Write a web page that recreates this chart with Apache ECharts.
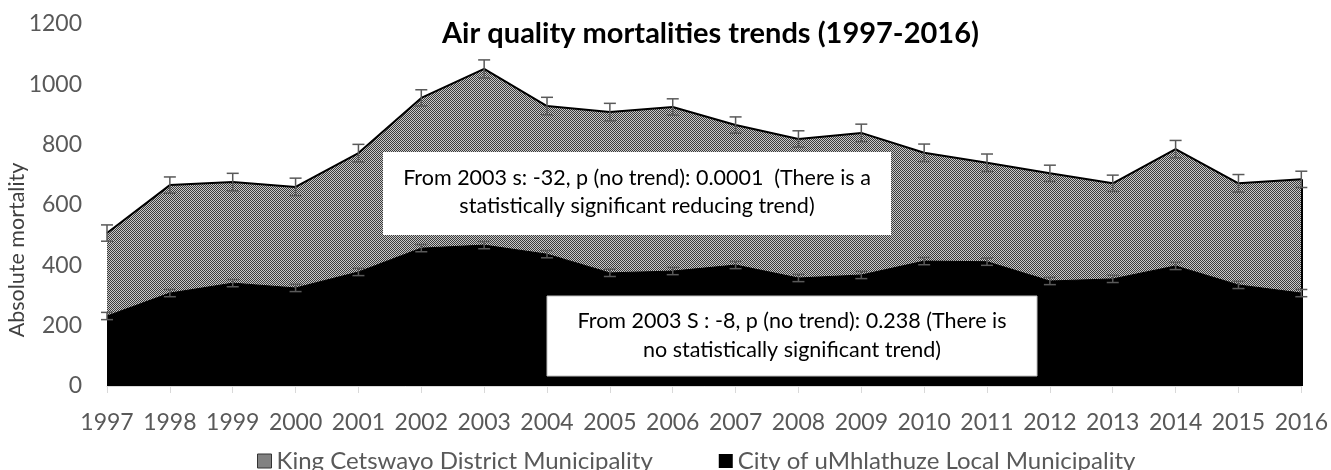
<!DOCTYPE html>
<html>
<head>
<meta charset="utf-8">
<script src="https://cdn.jsdelivr.net/npm/echarts@6/dist/echarts.min.js"></script>
<style>
  html, body { margin: 0; padding: 0; background: #fff; }
  #chart { width: 1331px; height: 470px; }
</style>
</head>
<body>
<div id="chart"></div>
<script>
const years = ['1997','1998','1999','2000','2001','2002','2003','2004','2005','2006',
               '2007','2008','2009','2010','2011','2012','2013','2014','2015','2016'];
// King Cetswayo District Municipality (total)
const districtValues = [507, 666, 676, 660, 772, 955, 1051, 928, 908, 925,
                        865, 819, 839, 773, 740, 705, 672, 785, 672, 685];
const districtErr = [27, 27, 29, 29, 29, 27, 30, 29, 29, 27,
                     27, 27, 29, 29, 29, 27, 27, 29, 29, 27];
// City of uMhlathuze Local Municipality
const cityValues = [232, 308, 341, 325, 378, 457, 467, 437, 375, 381,
                    401, 358, 368, 414, 412, 348, 355, 398, 335, 308];
const cityErr = [12, 12, 12, 12, 12, 12, 12, 12, 12, 12,
                 12, 12, 12, 12, 12, 12, 12, 12, 12, 12];
const yTicks = { min: 0, max: 1200, interval: 200 };

const FONT = 'Lato, "Open Sans", sans-serif';
const GRAY = '#595959';

// dithered grey fill like the Excel pattern
const pc = document.createElement('canvas');
pc.width = 2; pc.height = 2;
const pctx = pc.getContext('2d');
pctx.fillStyle = '#c8c8c8';
pctx.fillRect(0, 0, 2, 2);
pctx.fillStyle = '#3a3a3a';
pctx.fillRect(0, 0, 1, 1);
pctx.fillRect(1, 1, 1, 1);
const pattern = { image: pc, repeat: 'repeat' };

function errData(vals, errs) {
  return vals.map((v, i) => [i, v - errs[i], v + errs[i]]);
}

function renderErr(params, api) {
  const lo = api.coord([api.value(0), api.value(1)]);
  const hi = api.coord([api.value(0), api.value(2)]);
  const w = 6;
  const style = { stroke: GRAY, lineWidth: 1.5 };
  return {
    type: 'group',
    children: [
      { type: 'line', shape: { x1: lo[0], y1: lo[1], x2: hi[0], y2: hi[1] }, style },
      { type: 'line', shape: { x1: hi[0] - w, y1: hi[1], x2: hi[0] + w, y2: hi[1] }, style },
      { type: 'line', shape: { x1: lo[0] - w, y1: lo[1], x2: lo[0] + w, y2: lo[1] }, style }
    ]
  };
}

const last = years.length - 1;
const myChart = echarts.init(document.getElementById('chart'));

const option = {
  animation: false,
  title: {
    text: 'Air quality mortalities trends (1997-2016)',
    left: 437,
    top: 14,
    textStyle: { fontFamily: FONT, fontWeight: 'bold', fontSize: 29, color: '#000' }
  },
  legend: {
    left: 252,
    top: 444,
    itemWidth: 14,
    itemHeight: 14,
    itemGap: 66,
    icon: 'rect',
    textStyle: { fontFamily: FONT, fontSize: 24, color: GRAY },
    data: [
      { name: 'King Cetswayo District Municipality', itemStyle: { color: pattern, borderColor: '#333', borderWidth: 1 } },
      { name: 'City of uMhlathuze Local Municipality', itemStyle: { color: '#000' } }
    ]
  },
  grid: { left: 107, right: 28, top: 24, bottom: 84 },
  xAxis: {
    type: 'category',
    boundaryGap: false,
    data: years,
    axisLine: { lineStyle: { color: '#d9d9d9', width: 1 } },
    axisTick: { show: true, length: 7, interval: 0, lineStyle: { color: '#d9d9d9' } },
    axisLabel: { interval: 0, margin: 25, fontFamily: FONT, fontSize: 23, color: GRAY }
  },
  yAxis: {
    type: 'value',
    min: yTicks.min,
    max: yTicks.max,
    interval: yTicks.interval,
    axisLine: { show: false },
    axisTick: { show: false },
    splitLine: { show: false },
    axisLabel: { margin: 25, fontFamily: FONT, fontSize: 23, color: GRAY, formatter: v => String(v) }
  },
  graphic: [
    {
      type: 'text',
      x: 17, y: 250,
      rotation: Math.PI / 2,
      style: {
        text: 'Absolute mortality',
        fontFamily: FONT, fontSize: 21.5, fill: '#404040',
        align: 'center', verticalAlign: 'middle'
      }
    },
    {
      type: 'rect',
      z: 100,
      shape: { x: 383, y: 152, width: 508, height: 83 },
      style: { fill: '#fff' }
    },
    {
      type: 'text',
      z: 101,
      x: 637, y: 192,
      style: {
        text: 'From 2003 s: -32, p (no trend): 0.0001  (There is a\nstatistically significant reducing trend)',
        fontFamily: FONT, fontSize: 21.5, fill: '#000', lineHeight: 28,
        align: 'center', verticalAlign: 'middle'
      }
    },
    {
      type: 'rect',
      z: 100,
      shape: { x: 547, y: 296, width: 490, height: 80 },
      style: { fill: '#fff', stroke: '#bfbfbf', lineWidth: 1 }
    },
    {
      type: 'text',
      z: 101,
      x: 792, y: 336,
      style: {
        text: 'From 2003 S : -8, p (no trend): 0.238 (There is\nno statistically significant trend)',
        fontFamily: FONT, fontSize: 21.5, fill: '#000', lineHeight: 29,
        align: 'center', verticalAlign: 'middle'
      }
    }
  ],
  series: [
    {
      name: 'King Cetswayo District Municipality',
      type: 'line',
      data: districtValues,
      symbol: 'none',
      lineStyle: { color: '#000', width: 2 },
      itemStyle: { color: pattern },
      areaStyle: { color: pattern, opacity: 1 },
      markLine: {
        silent: true,
        symbol: 'none',
        label: { show: false },
        lineStyle: { color: '#000', width: 2, type: 'solid' },
        data: [
          [{ coord: [last, 0] }, { coord: [last, districtValues[last]] }]
        ]
      }
    },
    {
      name: 'City of uMhlathuze Local Municipality',
      type: 'line',
      data: cityValues,
      symbol: 'none',
      lineStyle: { color: '#000', width: 1 },
      itemStyle: { color: '#000' },
      areaStyle: { color: '#000', opacity: 1 }
    },
    {
      name: 'districtErr',
      type: 'custom',
      renderItem: renderErr,
      data: errData(districtValues, districtErr),
      z: 5
    },
    {
      name: 'cityErr',
      type: 'custom',
      renderItem: renderErr,
      data: errData(cityValues, cityErr),
      z: 5
    }
  ]
};

option && myChart.setOption(option);
</script>
</body>
</html>
